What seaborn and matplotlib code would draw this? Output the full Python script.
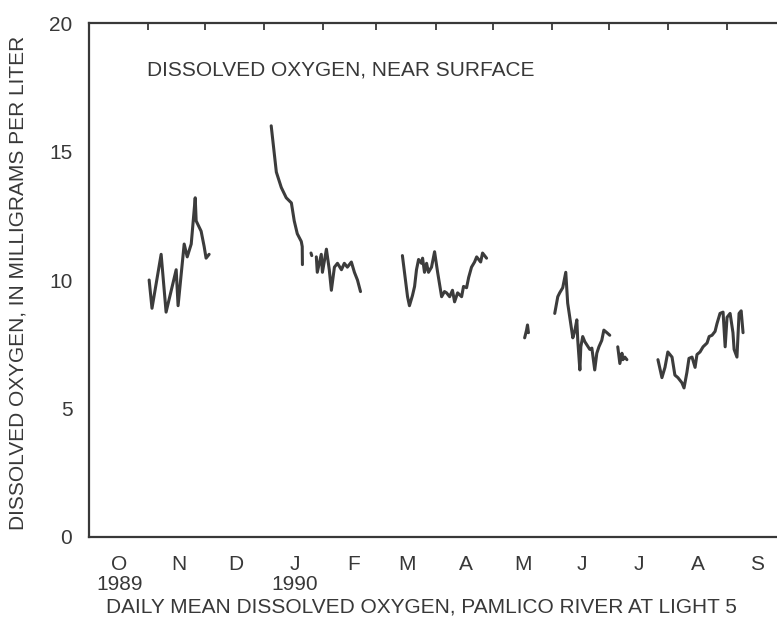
import pandas as pd
import matplotlib.pyplot as plt
import seaborn as sns

sns.set_style("white")
plt.rcParams['font.family'] = ['Liberation Sans', 'DejaVu Sans']

# days since 1989-10-01 (start of water year) and daily mean DO, mg/L
fall_days = [31.6, 33.1, 37.9, 40.5, 45.8, 46.8, 50.0, 51.6, 53.7, 55.8, 56.3, 58.9, 60.5, 61.5, 63.1]
fall_do = [10.0, 8.9, 11.0, 8.75, 10.4, 9.0, 11.4, 10.9, 11.4, 13.2, 12.3, 11.9, 11.3, 10.85, 11.0]

winter_days = [95.7, 98.4, 101.0, 103.6, 106.3, 107.8, 109.4, 111.5, 112.0, 112.1]
winter_do = [16.0, 14.2, 13.6, 13.2, 13.0, 12.3, 11.8, 11.5, 11.3, 10.6]

dot_days = [116.6, 117.0]
dot_do = [11.05, 10.95]

feb_days = [119.4, 119.9, 122.0, 122.6, 124.7, 126.2, 127.3, 128.9, 130.5, 132.6, 134.1,
            135.7, 137.8, 139.4, 141.0, 142.6]
feb_do = [10.9, 10.3, 11.0, 10.3, 11.2, 10.4, 9.6, 10.5, 10.65, 10.4, 10.65,
          10.5, 10.7, 10.3, 10.0, 9.55]

spring_days = [164.6, 167.3, 168.3, 169.9, 171.0, 172.0, 173.1, 174.6, 175.2, 176.2, 177.3,
               178.3, 179.9, 181.5, 183.1, 185.2, 186.7, 187.8, 189.4, 190.9, 192.0, 193.6,
               195.7, 196.7, 198.3, 199.4, 200.9, 202.5, 203.6, 205.7, 206.7, 208.8]
spring_do = [10.95, 9.35, 9.0, 9.4, 9.75, 10.4, 10.8, 10.65, 10.85, 10.3, 10.65,
             10.3, 10.5, 11.1, 10.3, 9.35, 9.55, 9.5, 9.35, 9.6, 9.15, 9.5,
             9.35, 9.75, 9.7, 10.1, 10.5, 10.7, 10.9, 10.7, 11.05, 10.85]

may_days = [228.8, 229.8, 230.3, 230.8]
may_do = [7.75, 8.05, 8.25, 7.95]

june_days = [244.6, 246.2, 247.2, 248.8, 250.4, 251.4, 253.0, 254.1, 255.1, 256.2, 256.7,
             257.8, 258.3, 259.3, 260.4, 263.0, 264.1, 265.6, 266.7, 267.8, 269.3, 270.4,
             272.0, 273.5]
june_do = [8.7, 9.35, 9.5, 9.7, 10.3, 9.1, 8.3, 7.75, 8.0, 8.45, 7.65,
           6.5, 7.4, 7.8, 7.6, 7.3, 7.35, 6.5, 7.15, 7.4, 7.65, 8.05,
           7.95, 7.85]

july_days = [277.7, 278.8, 279.9, 280.4, 281.4, 282.5]
july_do = [7.4, 6.75, 7.15, 6.9, 7.0, 6.9]

summer_days = [298.8, 300.9, 302.5, 304.0, 306.2, 307.7, 309.3, 311.4, 312.5, 314.0, 315.1,
               316.7, 318.3, 319.3, 320.9, 322.5, 324.6, 325.7, 327.2, 328.8, 329.8, 331.4,
               333.0, 334.1, 335.1, 336.7, 338.2, 338.8, 340.3, 341.4, 342.5, 343.5]
summer_do = [6.9, 6.2, 6.6, 7.2, 7.0, 6.3, 6.2, 6.0, 5.8, 6.4, 6.95,
             7.0, 6.6, 7.1, 7.2, 7.4, 7.55, 7.8, 7.85, 8.0, 8.3, 8.7,
             8.75, 7.4, 8.55, 8.7, 7.95, 7.3, 7.0, 8.7, 8.8, 7.95]

month_letters = ['O', 'N', 'D', 'J', 'F', 'M', 'A', 'M', 'J', 'J', 'A', 'S']
year_notes = {0: '1989', 3: '1990'}

segments = {
    'fall': (fall_days, fall_do), 'winter': (winter_days, winter_do),
    'dot': (dot_days, dot_do), 'feb': (feb_days, feb_do),
    'spring': (spring_days, spring_do), 'may': (may_days, may_do),
    'june': (june_days, june_do), 'july': (july_days, july_do),
    'summer': (summer_days, summer_do),
}
start = pd.Timestamp('1989-10-01')
frames = []
for name, (days, vals) in segments.items():
    frames.append(pd.DataFrame({
        'date': start + pd.to_timedelta(days, unit='D'),
        'do': vals,
        'seg': name,
    }))
df = pd.concat(frames, ignore_index=True)

ink = '#383838'
fs = 15
fig = plt.figure(figsize=(7.77, 6.31), dpi=100)
ax = fig.add_axes([0.1145, 0.149, 0.8945, 0.8145])

sns.lineplot(data=df, x='date', y='do', units='seg', estimator=None, sort=False,
             color='#3c3c3c', linewidth=2.2, ax=ax)

ax.set_xlim(start, pd.Timestamp('1990-10-01'))
ax.set_ylim(0, 20)
ax.set_yticks([0, 5, 10, 15, 20])

month_starts = pd.date_range(start, periods=13, freq='MS')
ax.set_xticks(month_starts, [''] * 13)
mids = month_starts[:12] + pd.Timedelta(days=16)
labels = [m + ('\n' + year_notes[i] if i in year_notes else '') for i, m in enumerate(month_letters)]
ax.set_xticks(mids, labels, minor=True)
for lbl in ax.get_xticklabels(minor=True):
    lbl.set_verticalalignment('top')
    lbl.set_linespacing(1.05)

ax.tick_params(axis='both', which='major', direction='in', length=5, width=1.3,
               color=ink, top=True, right=True, labelsize=fs, labelcolor=ink)
ax.tick_params(axis='y', pad=12)
ax.tick_params(axis='x', which='minor', length=0, pad=13, labelsize=fs, labelcolor=ink)

for s in ax.spines.values():
    s.set_color(ink)
    s.set_linewidth(1.6)

ax.set_xlabel('DAILY MEAN DISSOLVED OXYGEN, PAMLICO RIVER AT LIGHT 5',
              fontsize=fs, color=ink)
ax.xaxis.set_label_coords(0.479, -0.117)
ax.set_ylabel('DISSOLVED OXYGEN, IN MILLIGRAMS PER LITER',
              fontsize=fs, color=ink)
ax.yaxis.set_label_coords(-0.089, 0.495)
ax.text(0.083, 0.908, 'DISSOLVED OXYGEN, NEAR SURFACE', transform=ax.transAxes,
        fontsize=fs, color=ink, va='center', ha='left')

fig.savefig('out.png', dpi=100)
